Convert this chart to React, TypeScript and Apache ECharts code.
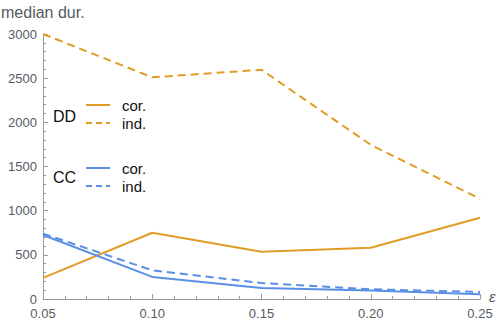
import React, { useEffect, useRef } from "react";
import * as echarts from "echarts";

const epsilons = [0.05, 0.1, 0.15, 0.2, 0.25];
const ddCor = [240, 750, 535, 580, 920];
const ddInd = [3000, 2510, 2595, 1745, 1135];
const ccCor = [725, 250, 125, 95, 55];
const ccInd = [740, 325, 180, 110, 80];

const ORANGE = "#E09C24";
const BLUE = "#5A8FE6";
const AXIS = "#9a9a9a";
const LABEL = "#555b62";
const FONT = "'Liberation Sans', Arial, sans-serif";

export default function App() {
  const ref = useRef<HTMLDivElement>(null);
  useEffect(() => {
    const chart = echarts.init(ref.current!, null, { renderer: "svg" });
    const pts = (ys: number[]) => epsilons.map((x, i) => [x, ys[i]]);
    const mk = (name: string, ys: number[], color: string, dashed: boolean) => ({
      name,
      type: "line",
      data: pts(ys),
      showSymbol: false,
      symbol: "none",
      lineStyle: { color, width: 2, type: dashed ? [8, 5] : "solid" },
      itemStyle: { color },
    });
    const legendItem = (label: string, y: number, color: string, dashed: boolean) => [
      {
        type: "line",
        shape: { x1: 86, y1: y, x2: 110, y2: y },
        style: { stroke: color, lineWidth: 2, lineDash: dashed ? [6, 4] : null },
      },
      {
        type: "text",
        x: 122,
        y: y,
        style: { text: label, fill: "#111", font: `15px ${FONT}`, textVerticalAlign: "middle" },
      },
    ];
    chart.setOption({
      animation: false,
      grid: { left: 43, right: 20, top: 34, bottom: 25 },
      xAxis: {
        type: "value",
        min: 0.05,
        max: 0.25,
        interval: 0.05,
        axisLine: { lineStyle: { color: AXIS } },
        axisTick: { inside: true, length: 5, lineStyle: { color: AXIS } },
        minorTick: { show: true, splitNumber: 5, length: 3, lineStyle: { color: AXIS } },
        splitLine: { show: false },
        axisLabel: {
          color: LABEL,
          fontSize: 13,
          fontFamily: FONT,
          margin: 8,
          formatter: (v: number) => v.toFixed(2),
        },
      },
      yAxis: {
        type: "value",
        min: 0,
        max: 3000,
        interval: 500,
        axisLine: { show: true, lineStyle: { color: AXIS } },
        axisTick: { show: true, inside: true, length: 5, lineStyle: { color: AXIS } },
        minorTick: { show: true, splitNumber: 5, length: 3, lineStyle: { color: AXIS } },
        splitLine: { show: false },
        axisLabel: {
          color: LABEL,
          fontSize: 13,
          fontFamily: FONT,
          margin: 6,
          formatter: (v: number) => String(v),
        },
      },
      series: [
        mk("DD cor.", ddCor, ORANGE, false),
        mk("DD ind.", ddInd, ORANGE, true),
        mk("CC cor.", ccCor, BLUE, false),
        mk("CC ind.", ccInd, BLUE, true),
      ],
      graphic: [
        {
          type: "text",
          x: 1,
          y: 4,
          style: { text: "median dur.", fill: LABEL, font: `16px ${FONT}` },
        },
        {
          type: "text",
          x: 489,
          y: 289,
          style: { text: "ε", fill: LABEL, font: `italic 15px ${FONT}` },
        },
        {
          type: "text",
          x: 53,
          y: 116,
          style: { text: "DD", fill: "#111", font: `16px ${FONT}`, textVerticalAlign: "middle" },
        },
        ...legendItem("cor.", 105, ORANGE, false),
        ...legendItem("ind.", 123, ORANGE, true),
        {
          type: "text",
          x: 53,
          y: 177,
          style: { text: "CC", fill: "#111", font: `16px ${FONT}`, textVerticalAlign: "middle" },
        },
        ...legendItem("cor.", 168, BLUE, false),
        ...legendItem("ind.", 186, BLUE, true),
      ],
    });
    return () => chart.dispose();
  }, []);
  return <div ref={ref} style={{ width: 500, height: 324, position: "absolute", left: 0, top: 0 }} />;
}
